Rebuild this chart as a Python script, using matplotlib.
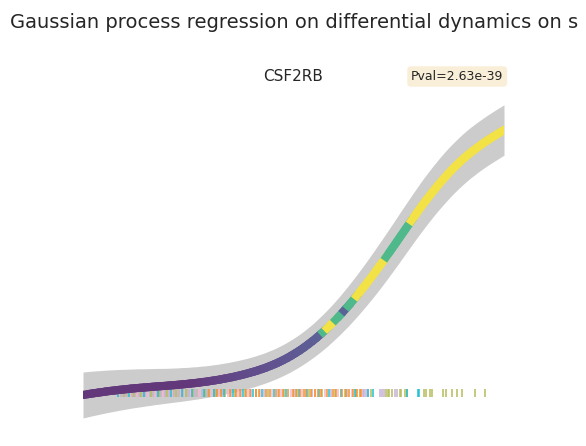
import numpy as np
import matplotlib
matplotlib.use("Agg")
import matplotlib.pyplot as plt
from matplotlib.collections import LineCollection

title = "Gaussian process regression on differential dynamics on s"
gene = "CSF2RB"
pval_text = "Pval=2.63e-39"

# GP posterior evaluated on a pseudotime grid (101 points, 0..1)
pseudotime = np.linspace(0, 1, 101)
gp_mean = [
    0.000, 0.007, 0.014, 0.020, 0.026, 0.032, 0.038, 0.043, 0.048, 0.053,
    0.057, 0.062, 0.066, 0.070, 0.073, 0.077, 0.080, 0.084, 0.087, 0.090,
    0.093, 0.097, 0.100, 0.104, 0.108, 0.112, 0.117, 0.121, 0.127, 0.132,
    0.138, 0.145, 0.151, 0.159, 0.167, 0.175, 0.184, 0.194, 0.204, 0.215,
    0.227, 0.239, 0.253, 0.267, 0.283, 0.300, 0.318, 0.338, 0.359, 0.382,
    0.407, 0.433, 0.461, 0.491, 0.523, 0.556, 0.592, 0.629, 0.668, 0.709,
    0.752, 0.796, 0.843, 0.890, 0.940, 0.990, 1.043, 1.096, 1.151, 1.206,
    1.264, 1.321, 1.380, 1.440, 1.500, 1.561, 1.622, 1.683, 1.743, 1.803,
    1.862, 1.919, 1.974, 2.028, 2.080, 2.130, 2.178, 2.224, 2.268, 2.309,
    2.349, 2.386, 2.421, 2.453, 2.485, 2.515, 2.544, 2.571, 2.598, 2.624,
    2.650,
]
gp_std = [
    0.230, 0.227, 0.224, 0.221, 0.218, 0.215, 0.212, 0.209, 0.206, 0.203,
    0.200, 0.197, 0.194, 0.192, 0.189, 0.186, 0.184, 0.181, 0.179, 0.176,
    0.174, 0.172, 0.170, 0.169, 0.167, 0.165, 0.164, 0.162, 0.161, 0.159,
    0.158, 0.157, 0.156, 0.156, 0.155, 0.154, 0.154, 0.153, 0.153, 0.152,
    0.152, 0.152, 0.152, 0.152, 0.153, 0.153, 0.154, 0.155, 0.156, 0.158,
    0.159, 0.161, 0.163, 0.166, 0.168, 0.171, 0.175, 0.178, 0.182, 0.185,
    0.189, 0.193, 0.197, 0.202, 0.206, 0.210, 0.214, 0.218, 0.222, 0.226,
    0.230, 0.233, 0.236, 0.238, 0.241, 0.244, 0.246, 0.247, 0.249, 0.250,
    0.252, 0.253, 0.253, 0.254, 0.254, 0.255, 0.255, 0.255, 0.254, 0.254,
    0.254, 0.254, 0.253, 0.253, 0.252, 0.252, 0.252, 0.252, 0.252, 0.252,
    0.252,
]
# colour value of the curve at each grid point (viridis scale)
curve_color = (
    [0.05] * 28
    + [0.06, 0.07, 0.075, 0.08, 0.085, 0.09, 0.095, 0.10, 0.105, 0.11,
       0.115, 0.12, 0.125, 0.13, 0.135, 0.14, 0.145, 0.15, 0.155, 0.16,
       0.165, 0.17, 0.175, 0.18, 0.185, 0.19, 0.195, 0.20, 0.21]
    + [0.65, 1.0, 1.0, 0.65, 0.65, 0.22, 0.65, 0.65]
    + [1.0] * 7
    + [0.65] * 6
    + [1.0] * 23
)

# cells along pseudotime, by cell type (rug)
rug_lavender = [0.085, 0.092, 0.1, 0.107, 0.118, 0.126, 0.133, 0.142, 0.15, 0.158,
                0.168, 0.176, 0.186, 0.195, 0.205, 0.214, 0.226, 0.238, 0.252, 0.266,
                0.283, 0.298, 0.312, 0.33, 0.352, 0.376, 0.398, 0.43, 0.462, 0.5,
                0.545, 0.59, 0.628, 0.664, 0.668, 0.672, 0.676, 0.706, 0.71, 0.714,
                0.742, 0.746]
rug_pink = [0.088, 0.113, 0.129, 0.153, 0.172, 0.19, 0.211, 0.232, 0.256, 0.275,
            0.306, 0.322, 0.344, 0.368, 0.392, 0.42, 0.448, 0.47, 0.495, 0.52,
            0.55, 0.575, 0.605, 0.64]
rug_olive = [0.097, 0.122, 0.138, 0.162, 0.181, 0.2, 0.22, 0.244, 0.262, 0.29,
             0.316, 0.338, 0.36, 0.384, 0.41, 0.44, 0.478, 0.508, 0.538, 0.568,
             0.598, 0.622, 0.648, 0.684, 0.72, 0.724, 0.728, 0.734, 0.752, 0.756,
             0.764, 0.77, 0.81, 0.815, 0.825, 0.83, 0.856, 0.862, 0.877, 0.889,
             0.9, 0.932, 0.955]
rug_cyan = [0.082, 0.11, 0.146, 0.179, 0.208, 0.235, 0.259, 0.287, 0.31, 0.334,
            0.357, 0.38, 0.404, 0.426, 0.453, 0.482, 0.512, 0.533, 0.561, 0.585,
            0.612, 0.645, 0.678, 0.69, 0.77, 0.795, 0.798]
rug_orange = [0.30, 0.318, 0.328, 0.348, 0.364, 0.372, 0.388, 0.396, 0.412, 0.418,
              0.434, 0.444, 0.458, 0.466, 0.474, 0.488, 0.498, 0.505, 0.516, 0.525,
              0.53, 0.542, 0.552, 0.558, 0.565, 0.58, 0.594, 0.602, 0.616, 0.624,
              0.633, 0.642, 0.652, 0.658, 0.66]
rug_gray = [0.09, 0.104, 0.116, 0.135, 0.145, 0.165, 0.184, 0.197, 0.217, 0.229,
            0.248, 0.27, 0.294]

rug_groups = [
    (rug_lavender, "#c5b0d5"),
    (rug_pink, "#f3b6d0"),
    (rug_gray, "#c2b6ae"),
    (rug_olive, "#b6bc5c"),
    (rug_cyan, "#22bfcf"),
    (rug_orange, "#f3902f"),
]

W, H = 586, 446
fig = plt.figure(figsize=(W / 100, H / 100), dpi=100)
ax = fig.add_axes([83 / W, (H - 430) / H, 421 / W, 330 / H])
ax.set_xlim(0, 1)
ax.set_ylim(-0.35, 2.95)
ax.axis("off")

mean = np.array(gp_mean)
std = np.array(gp_std)
ax.fill_between(pseudotime, mean - std, mean + std, color="gray", alpha=0.4,
                lw=0, zorder=1)

for vals, col in rug_groups:
    ax.vlines(vals, -0.02, 0.06, color=col, lw=1.1, zorder=2)

# curve colours: viridis at 0.8 alpha over the grey band, pre-mixed so
# neighbouring segments can overlap without darker seams
band_grey = 0.8
rgb = plt.cm.viridis(np.array(curve_color[:-1]))[:, :3]
cols = 0.8 * rgb + 0.2 * band_grey

pts = np.column_stack([pseudotime, mean]).reshape(-1, 1, 2)
segs = np.concatenate([pts[:-1], pts[1:]], axis=1)
lc = LineCollection(segs, colors=cols, linewidths=5.8,
                    capstyle="projecting", zorder=3)
ax.add_collection(lc)

fig.text(10 / W, 1 - 28 / H, title, fontsize=14, color="#262626",
         ha="left", va="baseline")
fig.text(293.5 / W, 1 - 81 / H, gene, fontsize=11, color="#262626",
         ha="center", va="baseline")
fig.text(411 / W, 1 - 80 / H, pval_text, fontsize=9, color="#262626",
         ha="left", va="baseline",
         bbox=dict(boxstyle="round", facecolor="wheat", alpha=0.5, edgecolor="none"))

fig.savefig("out.png", dpi=100)
